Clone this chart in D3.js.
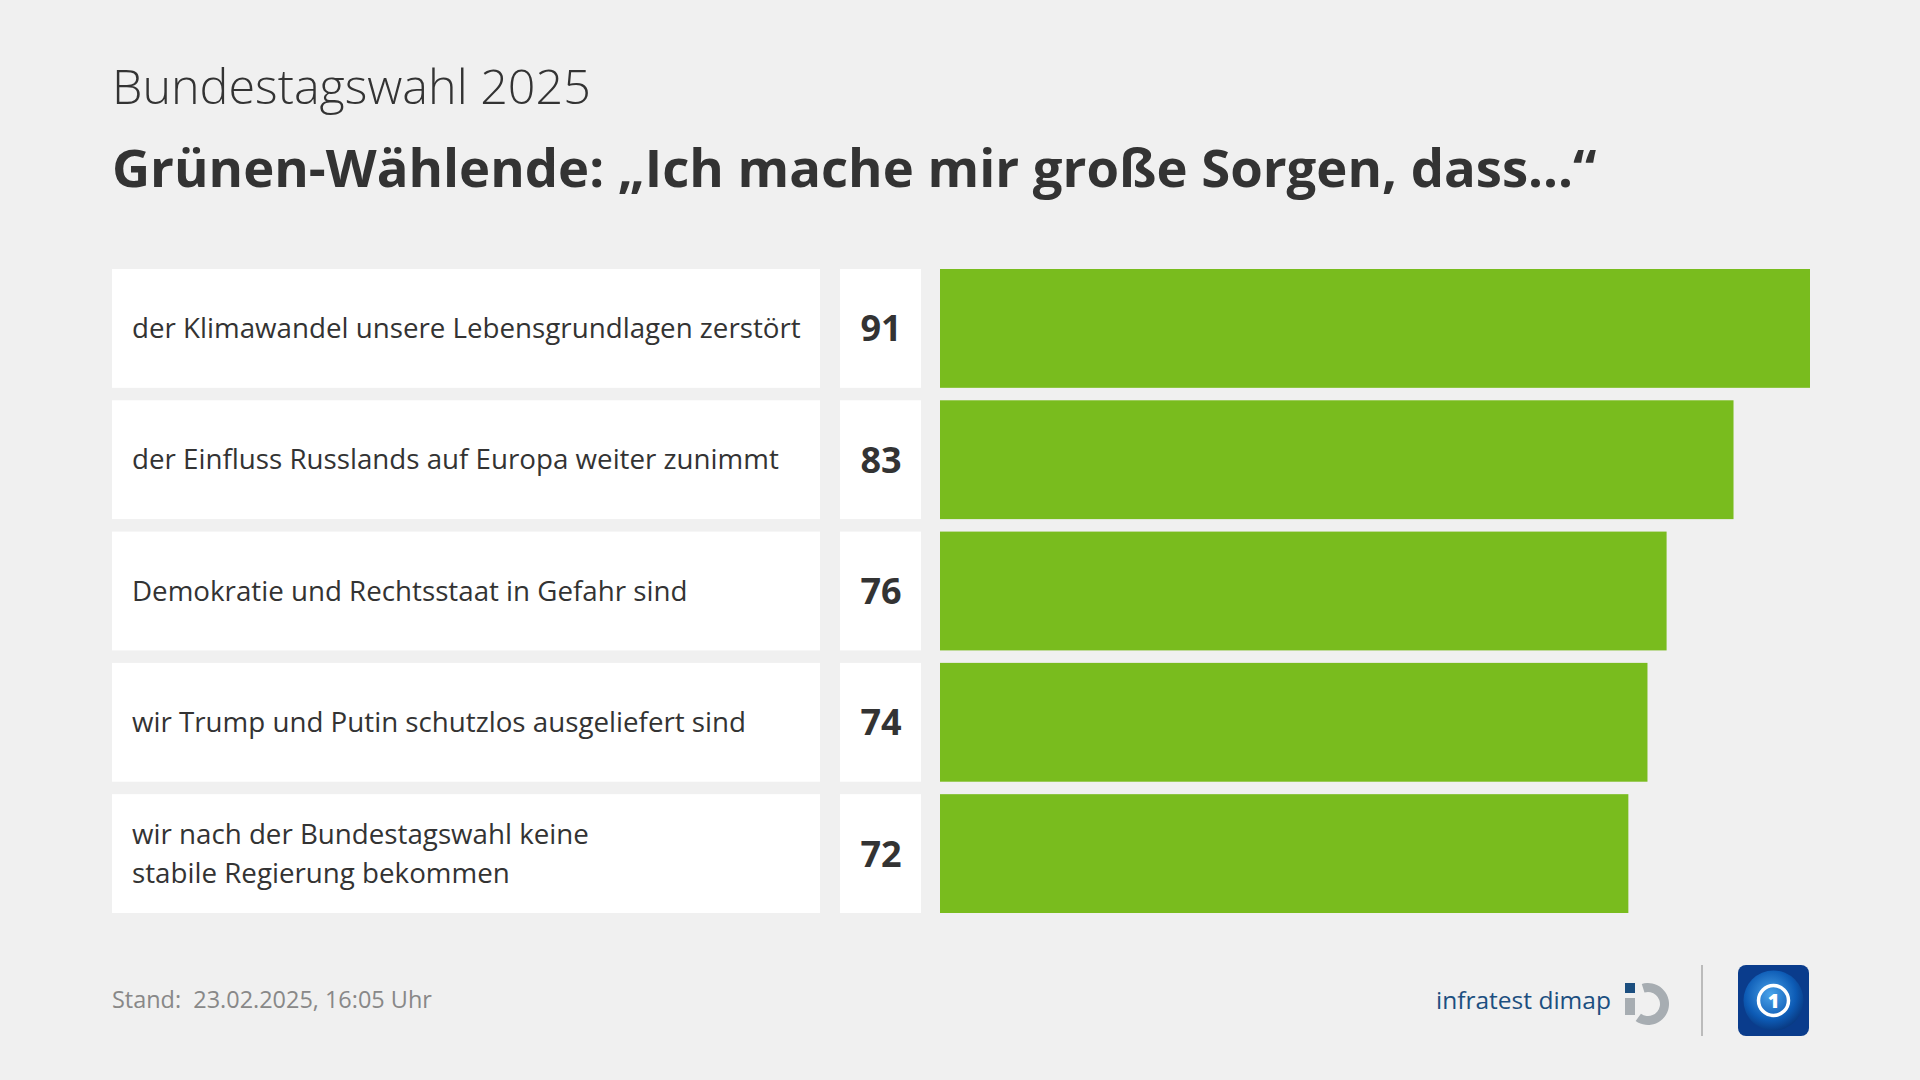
<!DOCTYPE html>
<html><head><meta charset="utf-8">
<script src="https://cdn.jsdelivr.net/npm/d3@7"></script>
<style>
html,body{margin:0;padding:0;background:#f0f0f0;}
svg{display:block;}
</style></head>
<body>
<svg id="chart" width="1920" height="1080"></svg>
<script>
const categories = [
  "der Klimawandel unsere Lebensgrundlagen zerstört",
  "der Einfluss Russlands auf Europa weiter zunimmt",
  "Demokratie und Rechtsstaat in Gefahr sind",
  "wir Trump und Putin schutzlos ausgeliefert sind",
  "wir nach der Bundestagswahl keine\nstabile Regierung bekommen"
];
const values = [91, 83, 76, 74, 72];
const supertitle = "Bundestagswahl 2025";
const title = "Grünen-Wählende: „Ich mache mir große Sorgen, dass...“";
const footnote = "Stand:  23.02.2025, 16:05 Uhr";

const svg = d3.select("#chart");
const font = "'Open Sans', Lato, sans-serif";
svg.append("rect").attr("width",1920).attr("height",1080).attr("fill","#f0f0f0");

function fit(sel, target){
  const fs = +sel.attr("font-size");
  const w = sel.node().getComputedTextLength();
  const nfs = fs * target / w;
  sel.attr("font-size", nfs);
  return nfs;
}

const st = svg.append("text").attr("x",112).attr("y",104).attr("font-family",font).attr("font-weight",300)
  .attr("font-size",44).attr("fill","#333").text(supertitle);
fit(st, 479);
const tt = svg.append("text").attr("x",112).attr("y",187).attr("font-family",font).attr("font-weight",700)
  .attr("font-size",52).attr("fill","#333").text(title);
fit(tt, 1485);

const y = d3.scaleBand().domain(categories).range([269, 913]).paddingInner(0.095);
const x = d3.scaleLinear().domain([0, 91]).range([940, 1810]);

const rows = svg.append("g").selectAll("g").data(categories).join("g")
  .attr("transform", d => `translate(0,${y(d)})`);
const bh = y.bandwidth();

rows.append("rect").attr("x",112).attr("width",708).attr("height",bh).attr("fill","#fff");
rows.append("rect").attr("x",840).attr("width",81).attr("height",bh).attr("fill","#fff");
rows.append("rect").attr("x",x(0)).attr("width",(d,i)=>x(values[i])-x(0)).attr("height",bh).attr("fill","#79bc1e");

const probe = svg.append("text").attr("font-family",font).attr("font-size",28).text(categories[0]);
const labelFs = fit(probe, 669);
probe.remove();

rows.each(function(d){
  const lines = d.split("\n");
  const t = d3.select(this).append("text").attr("font-family",font).attr("font-size",labelFs)
    .attr("fill","#333").attr("x",132);
  const lh = 39;
  const y0 = bh/2 - (lines.length-1)*lh/2;
  lines.forEach((l,j)=>{
    t.append("tspan").attr("x",132).attr("y",y0 + j*lh).attr("dy","0.35em").text(l);
  });
});
rows.append("text").attr("x",881).attr("y",bh/2).attr("dy","0.36em").attr("text-anchor","middle")
  .attr("font-family",font).attr("font-weight",700).attr("font-size",36).attr("fill","#333")
  .text((d,i)=>values[i]);

const fn = svg.append("text").attr("x",112).attr("y",1008).attr("font-family",font).attr("font-size",23)
  .attr("fill","#888").style("white-space","pre").text(footnote);
fit(fn, 320);

// infratest dimap logo
const it = svg.append("text").attr("x",1436).attr("y",1009).attr("font-family",font).attr("font-weight",400)
  .attr("font-size",27).attr("fill","#1c4f80").text("infratest dimap");
fit(it, 175);
const lg = svg.append("g").attr("transform","translate(1648,1004)");
lg.append("path").attr("d", d3.arc().innerRadius(12).outerRadius(21).startAngle(-0.3).endAngle(Math.PI*1.2)())
  .attr("fill","#a7adb2");
lg.append("rect").attr("x",-23).attr("y",-21).attr("width",10).attr("height",10).attr("fill","#1c4f80");
lg.append("rect").attr("x",-23).attr("y",-6).attr("width",10).attr("height",17).attr("fill","#a7adb2");

svg.append("line").attr("x1",1702).attr("x2",1702).attr("y1",965).attr("y2",1036)
  .attr("stroke","#bbb").attr("stroke-width",2);

// ARD logo
const defs = svg.append("defs");
const gr = defs.append("radialGradient").attr("id","ardg").attr("cx","45%").attr("cy","40%").attr("r","70%");
gr.append("stop").attr("offset","0%").attr("stop-color","#4aa3ea");
gr.append("stop").attr("offset","60%").attr("stop-color","#0d5bb5");
gr.append("stop").attr("offset","100%").attr("stop-color","#072a6a");
const ard = svg.append("g").attr("transform","translate(1738,965)");
ard.append("rect").attr("width",71).attr("height",71).attr("rx",8).attr("fill","#0a3c8c");
ard.append("circle").attr("cx",35.5).attr("cy",35.5).attr("r",30).attr("fill","url(#ardg)");
ard.append("circle").attr("cx",35.5).attr("cy",35.5).attr("r",15).attr("fill","none").attr("stroke","#fff").attr("stroke-width",3.5);
ard.append("text").attr("x",35.5).attr("y",36).attr("dy","0.35em").attr("text-anchor","middle")
  .attr("font-family",font).attr("font-weight",900).attr("font-size",20).attr("fill","#fff").text("1");
</script>
</body></html>
